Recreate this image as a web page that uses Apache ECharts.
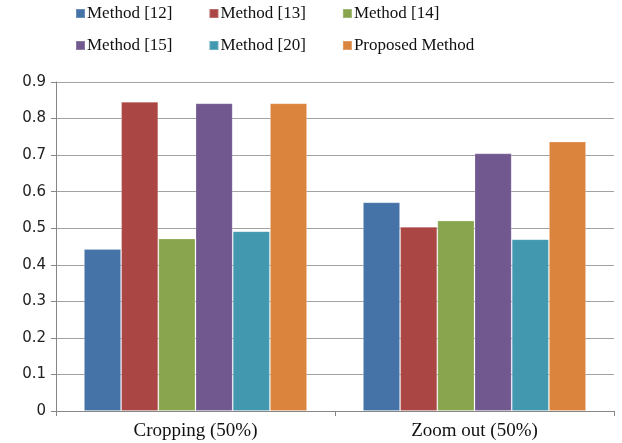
<!DOCTYPE html>
<html>
<head>
<meta charset="utf-8">
<script src="https://cdn.jsdelivr.net/npm/echarts@6/dist/echarts.min.js"></script>
<style>
  html, body { margin: 0; padding: 0; background: #fff; }
  #chart { width: 622px; height: 443px; }
</style>
</head>
<body>
<div id="chart"></div>
<script>
// Test cases on the x axis
const categories = ['Cropping (50%)', 'Zoom out (50%)'];

// One array per compared method
const method12 = [0.443, 0.571];
const method13 = [0.846, 0.504];
const method14 = [0.472, 0.521];
const method15 = [0.842, 0.705];
const method20 = [0.492, 0.470];
const proposed = [0.842, 0.737];

const seriesNames = ['Method [12]', 'Method [13]', 'Method [14]', 'Method [15]', 'Method [20]', 'Proposed Method'];
const seriesValues = [method12, method13, method14, method15, method20, proposed];
const seriesColors = ['#4572A7', '#AA4643', '#89A54E', '#71588F', '#4198AF', '#DB843D'];

// Value axis ticks
const yMin = 0, yMax = 0.9, yStep = 0.1;

const serif = '"Liberation Serif", "Times New Roman", serif';
const legendText = { fontFamily: serif, fontSize: 17, color: '#111' };

const chart = echarts.init(document.getElementById('chart'), null, { renderer: 'canvas' });

chart.setOption({
  animation: false,
  backgroundColor: '#fff',
  color: seriesColors,
  legend: [
    {
      data: seriesNames.slice(0, 3),
      left: 75, top: 5, padding: 0,
      itemWidth: 9, itemHeight: 9, itemGap: 36,
      icon: 'rect',
      textStyle: Object.assign({ padding: [0, 0, 0, -3] }, legendText)
    },
    {
      data: seriesNames.slice(3),
      left: 75, top: 37, padding: 0,
      itemWidth: 9, itemHeight: 9, itemGap: 36,
      icon: 'rect',
      textStyle: Object.assign({ padding: [0, 0, 0, -3] }, legendText)
    }
  ],
  grid: { left: 56, right: 8, top: 82, bottom: 32, containLabel: false },
  xAxis: {
    type: 'category',
    data: categories,
    axisLine: { lineStyle: { color: '#868686', width: 1 } },
    axisTick: { show: true, length: 5, lineStyle: { color: '#868686' } },
    axisLabel: { fontFamily: serif, fontSize: 19, color: '#111', margin: 11 },
    splitLine: { show: false }
  },
  yAxis: {
    type: 'value',
    min: yMin, max: yMax, interval: yStep,
    axisLine: { show: true, lineStyle: { color: '#868686', width: 1 } },
    axisTick: { show: true, length: 5, lineStyle: { color: '#868686' } },
    axisLabel: {
      fontFamily: '"DejaVu Sans", Verdana, sans-serif', fontSize: 15, color: '#222', margin: 10,
      formatter: v => String(+v.toFixed(1))
    },
    splitLine: { show: true, lineStyle: { color: '#a3a3a3', width: 1 } }
  },
  series: seriesNames.map((name, i) => ({
    name: name,
    type: 'bar',
    data: seriesValues[i],
    barGap: '0%',
    barCategoryGap: '20%',
    itemStyle: { color: seriesColors[i], borderColor: 'rgba(255,255,255,0.2)', borderWidth: 1 }
  }))
});
</script>
</body>
</html>
